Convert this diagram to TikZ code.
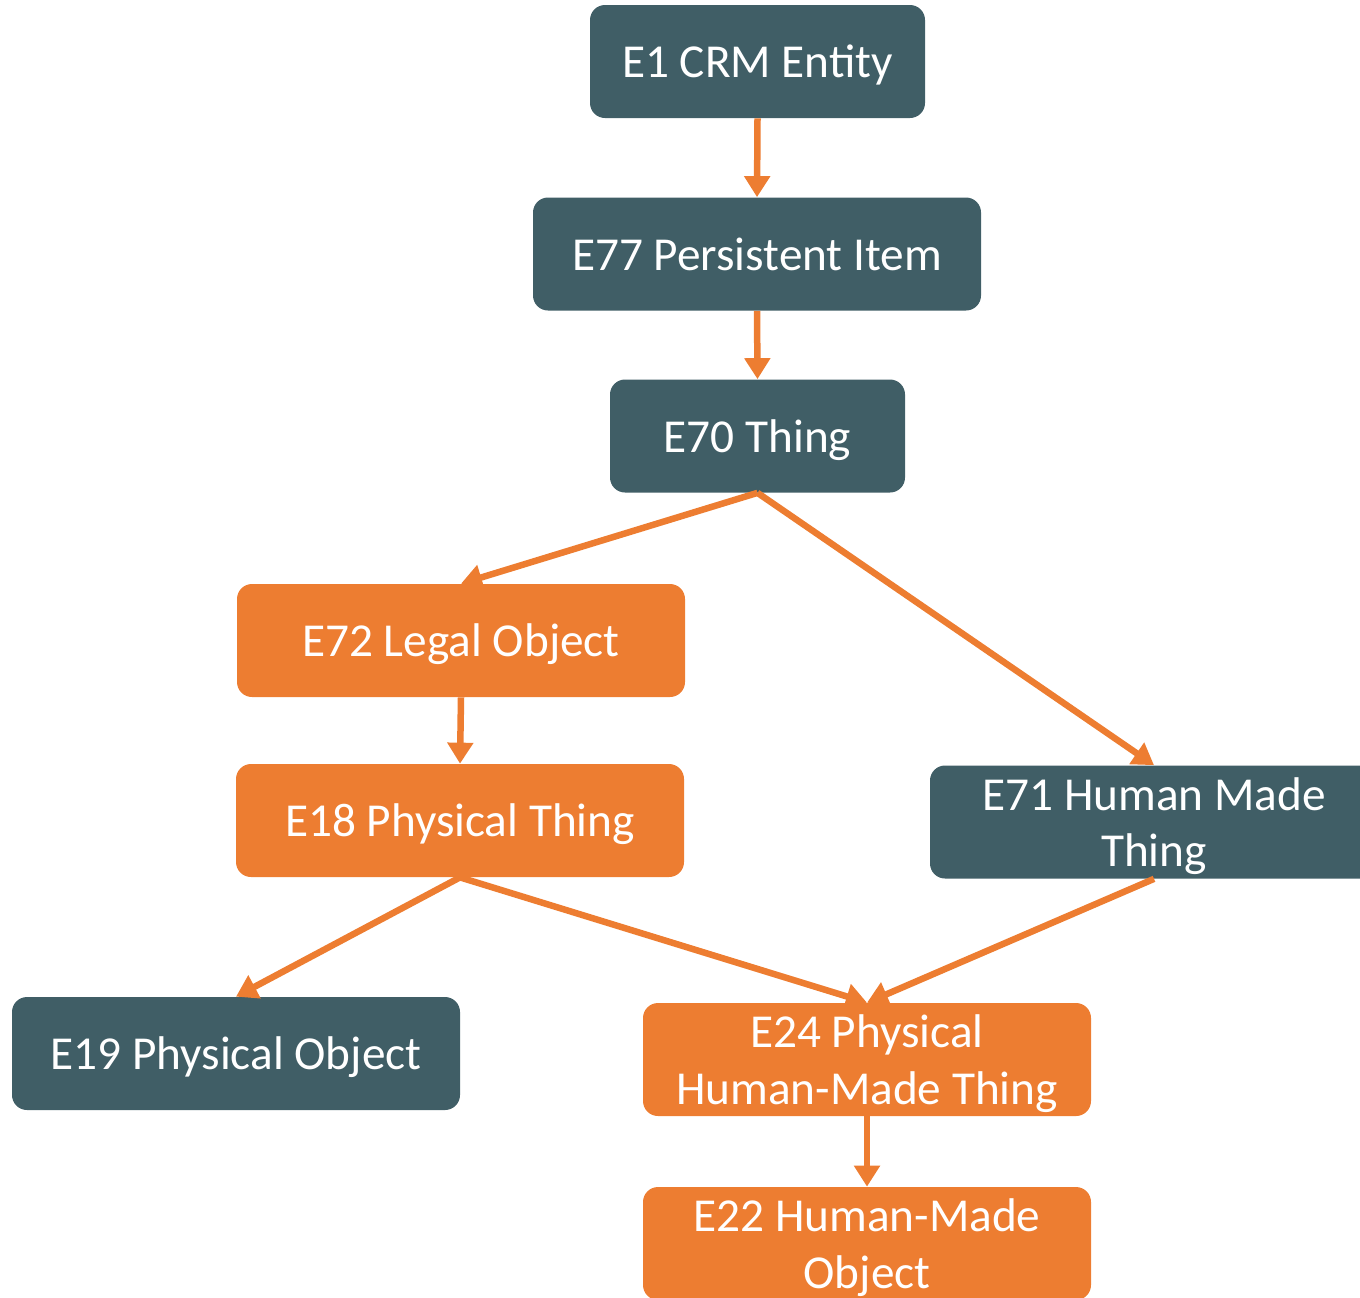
\documentclass[tikz,border=0pt]{standalone}
\usepackage{fontspec}
\setmainfont{Carlito}
\usetikzlibrary{arrows.meta}
\definecolor{slate}{RGB}{64,94,102}
\definecolor{crmorange}{RGB}{237,125,49}

\begin{document}
\begin{tikzpicture}[
  cls/.style={rounded corners=0.3cm, text=white, inner sep=0pt, align=center,
    minimum width=8.96cm, minimum height=2.26cm, text depth=0pt,
    font=\fontsize{26.9}{32.3}\selectfont},
  dark/.style={cls, fill=slate},
  light/.style={cls, fill=crmorange},
  isa/.style={-{Triangle[length=0.42cm,width=0.5cm]}, crmorange, line width=0.13cm}]
\useasboundingbox (0cm,0cm) rectangle (27.2cm,-25.94cm);
\node[dark, minimum width=6.7cm] (e1) at (15.15cm,-1.23cm) {E1 CRM Entity};
\node[dark] (e77) at (15.14cm,-5.08cm) {E77 Persistent Item};
\node[dark, minimum width=5.9cm] (e70) at (15.15cm,-8.72cm) {E70 Thing};
\node[light] (e72) at (9.22cm,-12.81cm) {E72 Legal Object};
\node[light] (e18) at (9.2cm,-16.41cm) {E18 Physical Thing};
\node[dark] (e71) at (23.08cm,-16.44cm) {E71 Human Made\\Thing};
\node[dark] (e19) at (4.72cm,-21.07cm) {E19 Physical Object};
\node[light] (e24) at (17.34cm,-21.19cm) {E24 Physical\\Human-Made Thing};
\node[light] (e22) at (17.34cm,-24.87cm) {E22 Human-Made\\Object};
\draw[isa] (e1.south) -- (e77.north);
\draw[isa] (e77.south) -- (e70.north);
\draw[isa] (e70.south) -- (e72.north);
\draw[isa] (e70.south) -- (e71.north);
\draw[isa] (e72.south) -- (e18.north);
\draw[isa] (e18.south) -- (e19.north);
\draw[isa] (e18.south) -- (e24.north);
\draw[isa] (e71.south) -- (e24.north);
\draw[isa] (e24.south) -- (e22.north);
\end{tikzpicture}
\end{document}
